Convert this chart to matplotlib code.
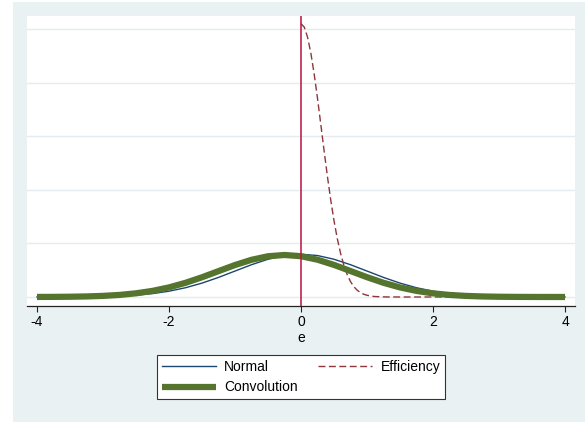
import matplotlib
matplotlib.use("Agg")
import matplotlib.pyplot as plt
from matplotlib.patches import Rectangle

plt.rcParams["font.family"] = ["Liberation Sans", "DejaVu Sans"]

# values (density scale, gridlines every 0.5)
e_grid = [-4.0, -3.75, -3.5, -3.25, -3.0, -2.75, -2.5, -2.25, -2.0, -1.75,
          -1.5, -1.25, -1.0, -0.75, -0.5, -0.25, 0.0, 0.25, 0.5, 0.75,
          1.0, 1.25, 1.5, 1.75, 2.0, 2.25, 2.5, 2.75, 3.0, 3.25,
          3.5, 3.75, 4.0]
normal = [0.0001, 0.0004, 0.0009, 0.0020, 0.0044, 0.0091, 0.0175, 0.0317,
          0.0540, 0.0863, 0.1295, 0.1826, 0.2420, 0.3011, 0.3521, 0.3867,
          0.3989, 0.3867, 0.3521, 0.3011, 0.2420, 0.1826, 0.1295, 0.0863,
          0.0540, 0.0317, 0.0175, 0.0091, 0.0044, 0.0020, 0.0009, 0.0004,
          0.0001]
convolution = [0.0005, 0.0011, 0.0025, 0.0052, 0.0103, 0.0193, 0.0342,
               0.0569, 0.0894, 0.1321, 0.1840, 0.2413, 0.2981, 0.3468,
               0.3800, 0.3919, 0.3806, 0.3478, 0.2993, 0.2424, 0.1848,
               0.1325, 0.0894, 0.0568, 0.0339, 0.0191, 0.0101, 0.0050,
               0.0023, 0.0010, 0.0004, 0.0002, 0.0001]

eff_x = [0.0, 0.05, 0.1, 0.15, 0.2, 0.25, 0.3, 0.35, 0.4, 0.45, 0.5, 0.55,
         0.6, 0.65, 0.7, 0.75, 0.8, 0.85, 0.9, 0.95, 1.0, 1.1, 1.2, 1.3,
         1.5, 2.0, 3.0, 4.0]
efficiency = [2.549, 2.517, 2.422, 2.272, 2.078, 1.853, 1.610, 1.364, 1.126,
              0.907, 0.712, 0.544, 0.406, 0.295, 0.209, 0.144, 0.097, 0.064,
              0.041, 0.026, 0.016, 0.005, 0.002, 0.0005, 0.0, 0.0, 0.0, 0.0]

xticks = [-4, -2, 0, 2, 4]
yticks = [0, 0.5, 1.0, 1.5, 2.0, 2.5]

navy = "#1a476f"
maroon = "#90353b"
green = "#55752f"
region = "#eaf1f3"

fig = plt.figure(figsize=(5.85, 4.24), dpi=100)
fig.patch.set_facecolor("white")
fig.patches.append(Rectangle((13 / 585, 2 / 424), 1.0, 420 / 424,
                             transform=fig.transFigure, facecolor=region,
                             edgecolor="none", zorder=-10))

ax = fig.add_axes([27 / 585, 118 / 424, 548 / 585, 290 / 424])
ax.set_facecolor("white")

for yv in yticks:
    ax.axhline(yv, color="#e4ecef", lw=1.0, zorder=0)

l_norm, = ax.plot(e_grid, normal, color=navy, lw=1.0, label="Normal", zorder=2)
l_eff, = ax.plot(eff_x, efficiency, color=maroon, lw=1.0, dashes=(5, 2.5),
                 label="Efficiency", zorder=3)
l_conv, = ax.plot(e_grid, convolution, color=green, lw=4.5,
                  solid_capstyle="butt", label="Convolution", zorder=4)
ax.axvline(0, color="#b8123e", lw=1.1, zorder=5)

ax.set_xlim(-4.1515, 4.1515)
ax.set_ylim(-0.084, 2.621)
ax.set_xticks(xticks)
ax.set_xticklabels([str(t) for t in xticks], fontsize=10)
ax.set_yticks([])
ax.tick_params(axis="x", direction="out", length=4.3, width=0.8, pad=2.5,
               color="#222222")
for s in ["left", "right", "top"]:
    ax.spines[s].set_visible(False)
ax.spines["bottom"].set_color("#222222")
ax.spines["bottom"].set_linewidth(0.9)
ax.set_xlabel("e", fontsize=10, labelpad=1)

leg = fig.legend([l_norm, l_conv, l_eff], ["Normal", "Convolution", "Efficiency"],
                 ncol=2, loc="center", mode="expand",
                 bbox_to_anchor=(150 / 585, 23 / 424, 302 / 585, 48 / 424),
                 fontsize=10, handlelength=3.9, handletextpad=0.6,
                 labelspacing=0.5, borderpad=0.35, fancybox=False,
                 framealpha=1.0, edgecolor="#333333")
leg.get_frame().set_linewidth(0.8)

fig.savefig("out.png", dpi=100, facecolor=fig.get_facecolor())
